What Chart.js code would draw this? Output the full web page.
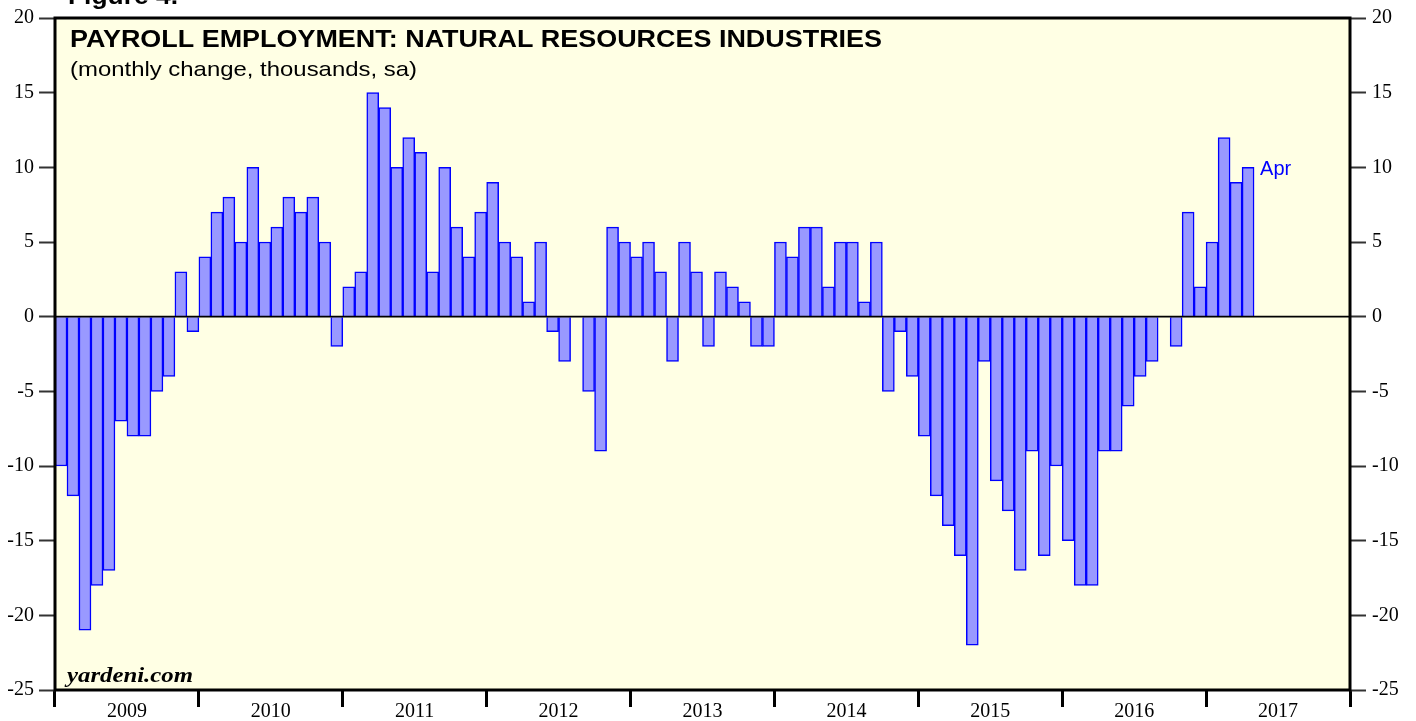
<!DOCTYPE html>
<html>
<head>
<meta charset="utf-8">
<script src="https://cdn.jsdelivr.net/npm/chart.js@4.4.0/dist/chart.umd.min.js"></script>
<style>
  html, body { margin: 0; padding: 0; background: #ffffff; }
  #wrap { width: 1416px; height: 721px; }
</style>
</head>
<body>
<div id="wrap"><canvas id="myChart" width="1416" height="721"></canvas></div>
<script>
// monthly change, thousands, Jan 2009 .. Apr 2017
var years = ['2009', '2010', '2011', '2012', '2013', '2014', '2015', '2016', '2017'];
var values_2009 = [-10, -12, -21, -18, -17, -7, -8, -8, -5, -4, 3, -1];
var values_2010 = [4, 7, 8, 5, 10, 5, 6, 8, 7, 8, 5, -2];
var values_2011 = [2, 3, 15, 14, 10, 12, 11, 3, 10, 6, 4, 7];
var values_2012 = [9, 5, 4, 1, 5, -1, -3, 0, -5, -9, 6, 5];
var values_2013 = [4, 5, 3, -3, 5, 3, -2, 3, 2, 1, -2, -2];
var values_2014 = [5, 4, 6, 6, 2, 5, 5, 1, 5, -5, -1, -4];
var values_2015 = [-8, -12, -14, -16, -22, -3, -11, -13, -17, -9, -16, -10];
var values_2016 = [-15, -18, -18, -9, -9, -6, -4, -3, 0, -2, 7, 2];
var values_2017 = [5, 12, 9, 10, null, null, null, null, null, null, null, null];
var y_ticks = [-25, -20, -15, -10, -5, 0, 5, 10, 15, 20];

var monthly = [].concat(values_2009, values_2010, values_2011, values_2012,
    values_2013, values_2014, values_2015, values_2016, values_2017);
var month_labels = [];
years.forEach(function (yr) {
    for (var m = 1; m <= 12; m++) month_labels.push(yr + '-' + m);
});
var last_index = 99; // Apr 2017

var serif = "'Liberation Serif', 'DejaVu Serif', serif";
var sans = "'Liberation Sans', Arial, sans-serif";

// draw text squeezed/stretched to a given width (the original is a bit wider than the font)
function stretchText(c, text, x, y, font, width) {
    c.save();
    c.font = font;
    var w = c.measureText(text).width;
    c.translate(x, y);
    c.scale(width / w, 1);
    c.fillText(text, 0, 0);
    c.restore();
}

var overlay = {
    id: 'overlay',
    beforeDraw: function (chart) {
        var c = chart.ctx, a = chart.chartArea;
        c.save();
        c.fillStyle = 'rgb(255,255,228)';
        c.fillRect(a.left, a.top, a.right - a.left, a.bottom - a.top);
        c.restore();
    },
    afterDatasetsDraw: function (chart) {
        var c = chart.ctx, a = chart.chartArea;
        var y0 = chart.scales.y.getPixelForValue(0);
        c.save();
        // zero line
        c.strokeStyle = '#000';
        c.lineWidth = 1.8;
        c.beginPath();
        c.moveTo(a.left, y0);
        c.lineTo(a.right, y0);
        c.stroke();
        // frame
        c.lineWidth = 3;
        c.strokeRect(a.left, a.top, a.right - a.left, a.bottom - a.top);

        c.fillStyle = '#000';
        c.textBaseline = 'alphabetic';
        c.textAlign = 'left';
        stretchText(c, 'Figure 4.', 68, 4, 'bold 24px ' + sans, 110);
        stretchText(c, 'PAYROLL EMPLOYMENT: NATURAL RESOURCES INDUSTRIES', 70, 47, 'bold 24px ' + sans, 812);
        stretchText(c, '(monthly change, thousands, sa)', 70, 76, '21px ' + sans, 347);
        stretchText(c, 'yardeni.com', 67, 682, 'bold italic 21px ' + serif, 126);

        // last value label
        var bar = chart.getDatasetMeta(0).data[last_index];
        var yv = chart.scales.y.getPixelForValue(monthly[last_index]);
        c.fillStyle = '#0000ff';
        c.font = '20px ' + sans;
        c.fillText('Apr', bar.x + bar.width / 2 + 6, yv + 8);
        c.restore();
    }
};

const ctx = document.getElementById('myChart').getContext('2d');
const myChart = new Chart(ctx, {
    type: 'bar',
    data: {
        labels: month_labels,
        datasets: [{
            label: 'monthly change',
            data: monthly,
            backgroundColor: 'rgb(153,153,255)',
            borderColor: 'rgb(0,0,255)',
            borderWidth: 1.5,
            barPercentage: 1,
            categoryPercentage: 1,
            xAxisID: 'x',
            yAxisID: 'y'
        }]
    },
    options: {
        responsive: false,
        animation: false,
        events: [],
        layout: { padding: { top: 18, left: 0, right: 0, bottom: 4 } },
        plugins: {
            legend: { display: false },
            tooltip: { enabled: false }
        },
        scales: {
            x: {
                type: 'category',
                position: 'bottom',
                offset: true,
                border: { display: false },
                grid: {
                    offset: true,
                    drawOnChartArea: false,
                    tickLength: 17,
                    tickWidth: 3,
                    tickColor: function (c) {
                        // year boundaries (and the closing line after the last month)
                        if (c.index === undefined || c.index % 12 === 0) return '#000';
                        return 'rgba(0,0,0,0)';
                    }
                },
                ticks: {
                    autoSkip: false,
                    maxRotation: 0,
                    minRotation: 0,
                    padding: -5,
                    labelOffset: -6,
                    color: '#000',
                    font: { family: serif, size: 20, lineHeight: 1 },
                    callback: function (v, i) {
                        return i % 12 === 6 ? years[Math.floor(i / 12)] : '';
                    }
                }
            },
            y: {
                position: 'left',
                min: -25,
                max: 20,
                afterBuildTicks: function (scale) {
                    scale.ticks = y_ticks.map(function (v) { return { value: v }; });
                },
                afterFit: function (scale) { scale.width = 55; },
                border: { display: false },
                grid: {
                    drawOnChartArea: false,
                    tickLength: 16,
                    tickWidth: 2,
                    tickColor: '#333'
                },
                ticks: {
                    padding: 5,
                    color: '#000',
                    font: { family: serif, size: 20 }
                }
            },
            y2: {
                position: 'right',
                min: -25,
                max: 20,
                afterBuildTicks: function (scale) {
                    scale.ticks = y_ticks.map(function (v) { return { value: v }; });
                },
                afterFit: function (scale) { scale.width = 66; },
                border: { display: false },
                grid: {
                    drawOnChartArea: false,
                    tickLength: 16,
                    tickWidth: 2,
                    tickColor: '#333'
                },
                ticks: {
                    padding: 6,
                    color: '#000',
                    font: { family: serif, size: 20 }
                }
            }
        }
    },
    plugins: [overlay]
});
</script>
</body>
</html>
